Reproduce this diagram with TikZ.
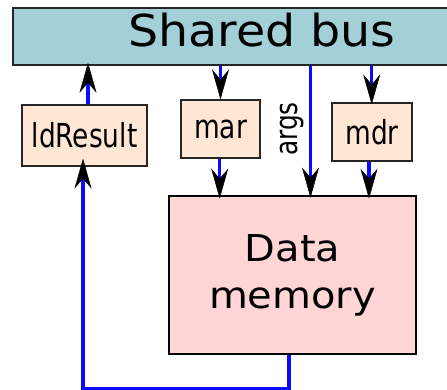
\documentclass[tikz,border=0pt]{standalone}
\usepackage{fontspec}
\usetikzlibrary{arrows.meta}
\newfontfamily\bigfont[FakeStretch=1.08]{DejaVu Sans}
\newfontfamily\smallfont[FakeStretch=0.8]{DejaVu Sans}
\definecolor{busfill}{HTML}{A3D0D7}
\definecolor{regfill}{HTML}{FFE6D5}
\definecolor{memfill}{HTML}{FFD5D5}
\definecolor{wire}{HTML}{0A0AFF}
\tikzset{
  regbox/.style={draw=black!85, line width=1.2pt, fill=regfill, inner sep=0pt,
    font=\smallfont\fontsize{33}{33}\selectfont},
  conn/.style={draw=wire, line width=3.4pt,
    -{Stealth[length=30pt 0 0, width=17pt 0 0, inset=10pt, line width=0.5pt, black]}},
}
\begin{document}
\begin{tikzpicture}[x=1pt, y=1pt]
  \useasboundingbox (0,0) rectangle (447,-389);

  % shared bus (runs off the right edge)
  \node (bus) [draw=black!85, line width=1.5pt, fill=busfill, inner sep=0pt,
    minimum width=447pt, minimum height=57pt] at (236.5,-36.5) {};
  \node (bustext) [anchor=base, inner sep=0pt,
    font=\bigfont\fontsize{44}{44}\selectfont] at (262,-46) {Shared bus};

  % registers
  \node (ld)  [regbox, minimum width=125pt, minimum height=61pt] at (84.5,-135.5) {ldResult};
  \node (mar) [regbox, minimum width=79pt, minimum height=58pt] at (220.5,-129) {mar};
  \node (mdr) [regbox, minimum width=80pt, minimum height=58pt] at (372,-132) {mdr};

  % data memory
  \node (dm) [draw=black, line width=2.8pt, fill=memfill, inner sep=0pt,
    minimum width=247pt, minimum height=158pt, align=center,
    font=\bigfont\fontsize{37}{47}\selectfont] at (292.5,-275) {Data\\memory};

  % connectors
  \draw[conn, shorten >=-3pt] ([xshift=3.5pt]ld.north) -- ([xshift=3.5pt]ld.north |- bus.south);
  \draw[conn] (mar.north |- bus.south) -- (mar.north);
  \draw[conn, shorten >=-4pt] ([xshift=-0.8pt]mar.south) -- ([xshift=-0.8pt]mar.south |- dm.north);
  \coordinate (argsin) at ([xshift=18pt]dm.north);
  \draw[conn, shorten >=-3pt] (argsin |- bus.south) -- (argsin);
  \node (args) [rotate=90, inner sep=0pt, font=\smallfont\fontsize{31}{31}\selectfont]
    at (292,-129) {args};
  \draw[conn, shorten >=-2pt] ([xshift=-0.3pt]mdr.north |- bus.south) -- ([xshift=-0.3pt]mdr.north);
  \draw[conn, shorten >=-4pt] ([xshift=-3pt]mdr.south) -- ([xshift=-3pt]mdr.south |- dm.north);
  \draw[conn, shorten >=-8pt] ([xshift=-3.5pt]dm.south) -- ++(0,-33.7) -| ([xshift=-1.5pt]ld.south);
\end{tikzpicture}
\end{document}
